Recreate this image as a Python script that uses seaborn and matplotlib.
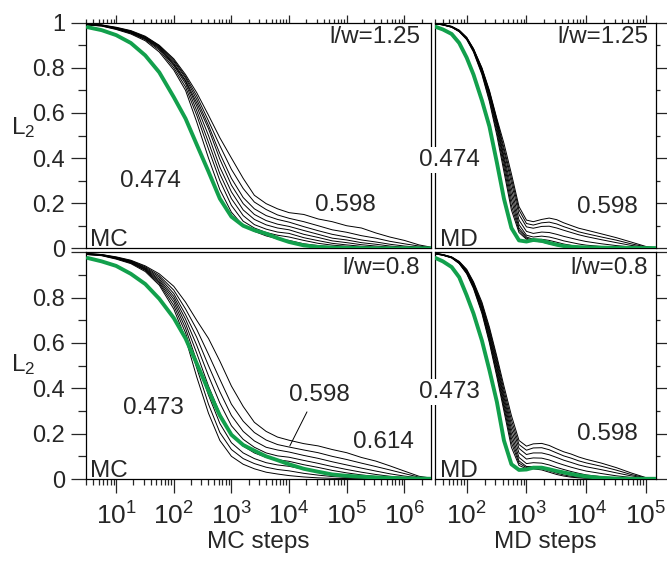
import matplotlib
matplotlib.use("Agg")
import matplotlib.pyplot as plt
import matplotlib.ticker as mticker
import pandas as pd
import seaborn as sns

# x grids (steps)
mc_steps = [3.2, 5.6, 10, 18, 32, 56, 100, 160, 250, 400, 630, 1000, 1600, 2500, 4000, 6300,
            1e4, 1.8e4, 3.2e4, 5.6e4, 1e5, 1.8e5, 3.2e5, 5.6e5, 1e6, 1.8e6, 2.9e6]
md_steps = [30, 40, 56, 75, 100, 130, 180, 240, 320, 420, 560, 750, 1000, 1300, 1800, 2400,
            3200, 4200, 5600, 7500, 1e4, 1.8e4, 3.2e4, 5.6e4, 1e5, 1.45e5]

# MC, l/w = 1.25
mc_125_green = [0.98, 0.967, 0.945, 0.91, 0.855, 0.78, 0.67, 0.575, 0.46, 0.34, 0.22, 0.14, 0.10, 0.08,
                0.065, 0.045, 0.028, 0.013, 0.006, 0.003, 0.002, 0.001, 0, 0, 0, 0, 0]
mc_125_black = [
    [0.99, 0.985, 0.97, 0.95, 0.92, 0.87, 0.79, 0.70, 0.56, 0.40, 0.26, 0.16, 0.10, 0.075, 0.055, 0.042,
     0.035, 0.02, 0.012, 0.007, 0.004, 0.002, 0.001, 0, 0, 0, 0],
    [0.99, 0.986, 0.972, 0.953, 0.925, 0.878, 0.80, 0.715, 0.59, 0.44, 0.30, 0.19, 0.12, 0.09, 0.07, 0.058,
     0.05, 0.035, 0.022, 0.014, 0.009, 0.005, 0.003, 0.001, 0, 0, 0],
    [0.991, 0.987, 0.974, 0.955, 0.928, 0.884, 0.81, 0.73, 0.61, 0.47, 0.33, 0.22, 0.145, 0.105, 0.085, 0.072,
     0.066, 0.047, 0.034, 0.022, 0.015, 0.009, 0.005, 0.002, 0.001, 0, 0],
    [0.992, 0.988, 0.975, 0.957, 0.93, 0.888, 0.815, 0.74, 0.63, 0.50, 0.36, 0.25, 0.17, 0.128, 0.104, 0.09,
     0.082, 0.062, 0.048, 0.033, 0.025, 0.016, 0.01, 0.005, 0.002, 0.001, 0],
    [0.993, 0.988, 0.976, 0.959, 0.932, 0.892, 0.82, 0.745, 0.645, 0.53, 0.395, 0.28, 0.198, 0.15, 0.123, 0.107,
     0.097, 0.079, 0.062, 0.045, 0.037, 0.025, 0.018, 0.01, 0.005, 0.002, 0.001],
    [0.993, 0.989, 0.977, 0.961, 0.935, 0.895, 0.828, 0.755, 0.66, 0.545, 0.42, 0.31, 0.225, 0.175, 0.145, 0.128,
     0.116, 0.096, 0.078, 0.062, 0.05, 0.037, 0.028, 0.018, 0.01, 0.005, 0.002],
    [0.994, 0.99, 0.978, 0.963, 0.937, 0.898, 0.834, 0.762, 0.675, 0.565, 0.455, 0.35, 0.265, 0.205, 0.172, 0.148,
     0.133, 0.118, 0.1, 0.082, 0.071, 0.056, 0.045, 0.031, 0.02, 0.01, 0.003],
    [0.995, 0.99, 0.98, 0.965, 0.94, 0.90, 0.84, 0.77, 0.69, 0.59, 0.49, 0.40, 0.31, 0.235, 0.198, 0.175,
     0.158, 0.15, 0.13, 0.118, 0.1, 0.09, 0.068, 0.05, 0.035, 0.015, 0.005],
]

# MC, l/w = 0.8
mc_08_green = [0.975, 0.96, 0.94, 0.905, 0.86, 0.795, 0.71, 0.62, 0.51, 0.39, 0.28, 0.195, 0.15, 0.125,
               0.1, 0.083, 0.065, 0.045, 0.032, 0.02, 0.014, 0.01, 0.007, 0.005, 0.003, 0.002, 0.001]
mc_08_black = [
    [0.99, 0.985, 0.97, 0.95, 0.915, 0.855, 0.75, 0.62, 0.45, 0.29, 0.17, 0.10, 0.065, 0.045, 0.03, 0.022,
     0.015, 0.009, 0.005, 0.003, 0.002, 0.001, 0, 0, 0, 0, 0],
    [0.99, 0.986, 0.972, 0.953, 0.92, 0.862, 0.765, 0.645, 0.49, 0.33, 0.205, 0.13, 0.09, 0.068, 0.052, 0.042,
     0.036, 0.025, 0.017, 0.011, 0.007, 0.004, 0.002, 0.001, 0, 0, 0],
    [0.991, 0.987, 0.973, 0.955, 0.923, 0.868, 0.78, 0.665, 0.52, 0.37, 0.245, 0.16, 0.115, 0.09, 0.072, 0.062,
     0.056, 0.043, 0.032, 0.022, 0.015, 0.009, 0.005, 0.003, 0.001, 0, 0],
    [0.992, 0.988, 0.975, 0.957, 0.926, 0.875, 0.793, 0.685, 0.555, 0.41, 0.29, 0.195, 0.145, 0.115, 0.095, 0.085,
     0.078, 0.063, 0.051, 0.038, 0.027, 0.018, 0.011, 0.006, 0.003, 0.001, 0],
    [0.993, 0.988, 0.976, 0.959, 0.929, 0.882, 0.805, 0.705, 0.59, 0.455, 0.335, 0.235, 0.175, 0.14, 0.115, 0.102,
     0.096, 0.082, 0.069, 0.055, 0.042, 0.03, 0.02, 0.012, 0.006, 0.002, 0.001],
    [0.993, 0.989, 0.977, 0.961, 0.932, 0.89, 0.818, 0.725, 0.625, 0.50, 0.385, 0.28, 0.21, 0.168, 0.14, 0.128,
     0.119, 0.104, 0.091, 0.076, 0.062, 0.048, 0.035, 0.023, 0.013, 0.005, 0.002],
    [0.994, 0.99, 0.978, 0.963, 0.936, 0.897, 0.833, 0.75, 0.66, 0.55, 0.44, 0.33, 0.255, 0.205, 0.172, 0.152,
     0.141, 0.128, 0.116, 0.1, 0.086, 0.07, 0.055, 0.04, 0.024, 0.008, 0.003],
    [0.995, 0.99, 0.98, 0.965, 0.94, 0.905, 0.85, 0.78, 0.70, 0.62, 0.52, 0.41, 0.32, 0.25, 0.21, 0.185,
     0.171, 0.156, 0.146, 0.13, 0.116, 0.095, 0.079, 0.058, 0.035, 0.012, 0.004],
]

# MD, l/w = 1.25
md_125_green = [0.982, 0.97, 0.95, 0.91, 0.845, 0.77, 0.655, 0.54, 0.38, 0.22, 0.09, 0.035, 0.03, 0.037,
                0.033, 0.024, 0.016, 0.01, 0.007, 0.005, 0.004, 0.003, 0.002, 0.002, 0.001, 0.001]
md_125_black = [
    [0.995, 0.99, 0.98, 0.96, 0.925, 0.87, 0.77, 0.65, 0.50, 0.34, 0.17, 0.07, 0.04, 0.032, 0.028, 0.02,
     0.012, 0.007, 0.004, 0.002, 0.001, 0, 0, 0, 0, 0],
    [0.995, 0.99, 0.98, 0.961, 0.927, 0.873, 0.775, 0.66, 0.515, 0.36, 0.19, 0.08, 0.045, 0.035, 0.032, 0.026,
     0.018, 0.011, 0.007, 0.004, 0.002, 0.001, 0, 0, 0, 0],
    [0.995, 0.991, 0.981, 0.962, 0.929, 0.876, 0.781, 0.67, 0.53, 0.38, 0.215, 0.09, 0.05, 0.04, 0.04, 0.035,
     0.027, 0.019, 0.013, 0.008, 0.005, 0.002, 0.001, 0, 0, 0],
    [0.995, 0.991, 0.981, 0.963, 0.93, 0.878, 0.786, 0.678, 0.543, 0.395, 0.24, 0.105, 0.058, 0.05, 0.054, 0.05,
     0.042, 0.033, 0.026, 0.019, 0.014, 0.008, 0.004, 0.002, 0.001, 0],
    [0.996, 0.991, 0.982, 0.964, 0.931, 0.88, 0.79, 0.685, 0.553, 0.41, 0.265, 0.125, 0.075, 0.066, 0.072, 0.07,
     0.062, 0.053, 0.045, 0.037, 0.03, 0.02, 0.012, 0.006, 0.002, 0.001],
    [0.996, 0.992, 0.983, 0.965, 0.933, 0.882, 0.794, 0.69, 0.562, 0.43, 0.29, 0.15, 0.095, 0.089, 0.097, 0.098,
     0.09, 0.08, 0.07, 0.06, 0.052, 0.038, 0.025, 0.013, 0.004, 0.001],
    [0.996, 0.992, 0.983, 0.966, 0.934, 0.884, 0.797, 0.695, 0.568, 0.445, 0.31, 0.17, 0.11, 0.103, 0.113, 0.116,
     0.108, 0.096, 0.085, 0.073, 0.065, 0.05, 0.036, 0.02, 0.006, 0.002],
    [0.996, 0.992, 0.984, 0.967, 0.935, 0.885, 0.80, 0.70, 0.575, 0.465, 0.33, 0.185, 0.125, 0.118, 0.128, 0.134,
     0.127, 0.113, 0.101, 0.089, 0.081, 0.064, 0.047, 0.028, 0.008, 0.002],
]

# MD, l/w = 0.8
md_08_green = [0.975, 0.96, 0.935, 0.89, 0.81, 0.73, 0.61, 0.48, 0.34, 0.17, 0.065, 0.04, 0.042, 0.05,
               0.05, 0.043, 0.035, 0.029, 0.022, 0.016, 0.011, 0.005, 0.002, 0.001, 0.001, 0.001]
md_08_black = [
    [0.993, 0.987, 0.975, 0.95, 0.905, 0.84, 0.73, 0.6, 0.45, 0.3, 0.14, 0.06, 0.045, 0.045, 0.04, 0.03,
     0.02, 0.013, 0.008, 0.005, 0.003, 0.001, 0, 0, 0, 0],
    [0.993, 0.987, 0.976, 0.951, 0.908, 0.845, 0.737, 0.61, 0.463, 0.315, 0.16, 0.07, 0.05, 0.05, 0.046, 0.036,
     0.026, 0.018, 0.012, 0.008, 0.005, 0.002, 0.001, 0, 0, 0],
    [0.994, 0.988, 0.976, 0.952, 0.91, 0.849, 0.745, 0.62, 0.475, 0.33, 0.18, 0.08, 0.055, 0.055, 0.052, 0.044,
     0.034, 0.025, 0.018, 0.012, 0.008, 0.004, 0.002, 0.001, 0, 0],
    [0.994, 0.988, 0.977, 0.954, 0.913, 0.853, 0.752, 0.63, 0.49, 0.345, 0.2, 0.095, 0.068, 0.072, 0.07, 0.062,
     0.051, 0.042, 0.033, 0.025, 0.018, 0.01, 0.005, 0.002, 0.001, 0],
    [0.994, 0.989, 0.978, 0.955, 0.916, 0.857, 0.758, 0.64, 0.502, 0.36, 0.22, 0.115, 0.088, 0.093, 0.092, 0.084,
     0.072, 0.062, 0.052, 0.043, 0.035, 0.024, 0.014, 0.007, 0.002, 0.001],
    [0.995, 0.989, 0.978, 0.957, 0.919, 0.861, 0.765, 0.65, 0.515, 0.375, 0.24, 0.135, 0.108, 0.115, 0.115, 0.107,
     0.095, 0.083, 0.073, 0.062, 0.054, 0.041, 0.027, 0.014, 0.004, 0.001],
    [0.995, 0.99, 0.979, 0.958, 0.922, 0.866, 0.772, 0.66, 0.528, 0.392, 0.26, 0.152, 0.127, 0.137, 0.138, 0.129,
     0.115, 0.102, 0.092, 0.08, 0.071, 0.056, 0.039, 0.02, 0.005, 0.002],
    [0.995, 0.99, 0.98, 0.96, 0.925, 0.87, 0.78, 0.67, 0.54, 0.41, 0.28, 0.17, 0.145, 0.155, 0.157, 0.148,
     0.133, 0.12, 0.11, 0.097, 0.087, 0.07, 0.05, 0.027, 0.006, 0.002],
]

mc_ticks = [10, 100, 1000, 1e4, 1e5, 1e6]
mc_ticklabels = ['$10^{1}$', '$10^{2}$', '$10^{3}$', '$10^{4}$', '$10^{5}$', '$10^{6}$']
md_ticks = [100, 1000, 1e4, 1e5]
md_ticklabels = ['$10^{2}$', '$10^{3}$', '$10^{4}$', '$10^{5}$']
y_ticks = [0, 0.2, 0.4, 0.6, 0.8, 1.0]

GREEN = '#12a04c'

sns.set_style('ticks')
plt.rcParams['font.family'] = ['Liberation Sans', 'DejaVu Sans']
plt.rcParams['mathtext.fontset'] = 'custom'
plt.rcParams['mathtext.rm'] = 'Liberation Sans'
plt.rcParams['mathtext.default'] = 'regular'


def draw_panel(ax, steps, black_curves, green_curve):
    rows = []
    for k, curve in enumerate(black_curves):
        for s, v in zip(steps, curve):
            rows.append({'steps': s, 'L2': v, 'curve': k})
    df = pd.DataFrame(rows)
    sns.lineplot(data=df, x='steps', y='L2', units='curve', estimator=None,
                 color='black', lw=0.7, ax=ax, legend=False)
    sns.lineplot(x=steps, y=green_curve, color=GREEN, lw=2.8, ax=ax, zorder=3)
    ax.set_xscale('log')
    ax.set_ylim(0, 1)
    ax.set_xlabel('')
    ax.set_ylabel('')
    for sp in ax.spines.values():
        sp.set_linewidth(0.9)
        sp.set_color('black')
    ax.yaxis.set_major_locator(mticker.FixedLocator(y_ticks))
    ax.yaxis.set_minor_locator(mticker.MultipleLocator(0.1))
    ax.xaxis.set_minor_locator(mticker.LogLocator(base=10, subs=[2, 3, 4, 5, 6, 7, 8, 9], numticks=30))
    ax.xaxis.set_minor_formatter(mticker.NullFormatter())


fig = plt.figure(figsize=(6.67, 5.66), dpi=100)
W, H = 667.0, 566.0
ax_tl = fig.add_axes([86 / W, 1 - 248.3 / H, 345 / W, 225.6 / H])
ax_tr = fig.add_axes([435 / W, 1 - 248.3 / H, 221 / W, 225.6 / H])
ax_bl = fig.add_axes([86 / W, 1 - 479 / H, 345 / W, 226.7 / H])
ax_br = fig.add_axes([435 / W, 1 - 479 / H, 221 / W, 226.7 / H])

draw_panel(ax_tl, mc_steps, mc_125_black, mc_125_green)
draw_panel(ax_tr, md_steps, md_125_black, md_125_green)
draw_panel(ax_bl, mc_steps, mc_08_black, mc_08_green)
draw_panel(ax_br, md_steps, md_08_black, md_08_green)

for ax in (ax_tl, ax_bl):
    ax.set_xlim(3, 2.9e6)
    ax.xaxis.set_major_locator(mticker.FixedLocator(mc_ticks))
for ax in (ax_tr, ax_br):
    ax.set_xlim(29.5, 1.47e5)
    ax.xaxis.set_major_locator(mticker.FixedLocator(md_ticks))

# x ticks: top panels on top, bottom panels at bottom
for ax in (ax_tl, ax_tr):
    ax.tick_params(axis='x', which='both', direction='out', top=True, bottom=False,
                   labelbottom=False, labeltop=False, width=0.9)
    ax.tick_params(axis='x', which='major', length=5.5)
    ax.tick_params(axis='x', which='minor', length=3)
for ax, ticks, labels in ((ax_bl, mc_ticks, mc_ticklabels), (ax_br, md_ticks, md_ticklabels)):
    ax.tick_params(axis='x', which='both', direction='out', top=False, bottom=True, width=0.9)
    ax.tick_params(axis='x', which='major', length=10, labelsize=19, pad=7)
    ax.tick_params(axis='x', which='minor', length=4.5)
    ax.set_xticklabels(labels)

# y ticks: left panels on left with labels, right panels on right
for ax in (ax_tl, ax_bl):
    ax.tick_params(axis='y', which='both', direction='out', left=True, right=False, width=0.9)
    ax.tick_params(axis='y', which='major', length=11, labelsize=17, pad=4)
    ax.tick_params(axis='y', which='minor', length=6)
ax_tl.set_yticklabels(['0', '0.2', '0.4', '0.6', '0.8', '1'])
ax_bl.set_yticklabels(['0', '0.2', '0.4', '0.6', '0.8', ''])
for ax in (ax_tr, ax_br):
    ax.tick_params(axis='y', which='both', direction='out', left=False, right=True,
                   labelleft=False, labelright=False, width=0.9)
    ax.tick_params(axis='y', which='major', length=8)
    ax.tick_params(axis='y', which='minor', length=3)

ax_bl.set_xlabel('MC steps', fontsize=17.5, labelpad=1)
ax_br.set_xlabel('MD steps', fontsize=17.5, labelpad=1)

ax_tl.text(-0.218, 0.534, 'L$_2$', transform=ax_tl.transAxes, fontsize=17.5, ha='left', va='center')
ax_bl.text(-0.218, 0.503, 'L$_2$', transform=ax_bl.transAxes, fontsize=17.5, ha='left', va='center')

fs = 17.5
# top-left (MC, l/w=1.25)
ax_tl.text(0.968, 0.938, 'l/w=1.25', transform=ax_tl.transAxes, fontsize=fs, ha='right', va='center')
ax_tl.text(0.012, 0.008, 'MC', transform=ax_tl.transAxes, fontsize=fs, ha='left', va='baseline')
ax_tl.text(40, 0.30, '0.474', fontsize=fs, ha='center', va='center')
ax_tl.text(9.4e4, 0.192, '0.598', fontsize=fs, ha='center', va='center')

# top-right (MD, l/w=1.25)
ax_tr.text(0.964, 0.938, 'l/w=1.25', transform=ax_tr.transAxes, fontsize=fs, ha='right', va='center')
ax_tr.text(0.023, 0.008, 'MD', transform=ax_tr.transAxes, fontsize=fs, ha='left', va='baseline')
ax_tr.text(52, 0.391, '0.474', fontsize=fs, ha='center', va='center', zorder=10, clip_on=False,
           bbox=dict(facecolor='white', edgecolor='none', pad=1.5))
ax_tr.text(2.3e4, 0.183, '0.598', fontsize=fs, ha='center', va='center')

# bottom-left (MC, l/w=0.8)
ax_bl.text(0.968, 0.93, 'l/w=0.8', transform=ax_bl.transAxes, fontsize=fs, ha='right', va='center')
ax_bl.text(0.012, 0.01, 'MC', transform=ax_bl.transAxes, fontsize=fs, ha='left', va='baseline')
ax_bl.text(44, 0.313, '0.473', fontsize=fs, ha='center', va='center')
ax_bl.text(3.3e4, 0.37, '0.598', fontsize=fs, ha='center', va='center')
ax_bl.annotate('', xy=(9.8e3, 0.135), xytext=(2.15e4, 0.307),
               arrowprops=dict(arrowstyle='-', color='black', lw=0.7))
ax_bl.text(4.4e5, 0.165, '0.614', fontsize=fs, ha='center', va='center')

# bottom-right (MD, l/w=0.8)
ax_br.text(0.964, 0.93, 'l/w=0.8', transform=ax_br.transAxes, fontsize=fs, ha='right', va='center')
ax_br.text(0.023, 0.01, 'MD', transform=ax_br.transAxes, fontsize=fs, ha='left', va='baseline')
ax_br.text(52, 0.385, '0.473', fontsize=fs, ha='center', va='center', zorder=10, clip_on=False,
           bbox=dict(facecolor='white', edgecolor='none', pad=1.5))
ax_br.text(2.3e4, 0.2, '0.598', fontsize=fs, ha='center', va='center')

fig.savefig('out.png', dpi=100)
